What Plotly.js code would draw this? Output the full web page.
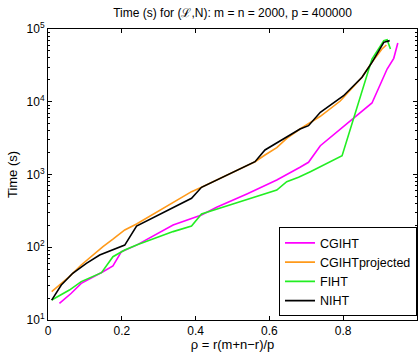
<!DOCTYPE html>
<html>
<head>
<meta charset="utf-8">
<script src="https://cdn.plot.ly/plotly-3.0.1.min.js"></script>
<style>
html,body{margin:0;padding:0;background:#fff;}
#chart{width:418px;height:352px;}
</style>
</head>
<body>
<div id="chart"></div>
<script>
// CGIHT (magenta)
const rhoCGIHT = [0.031, 0.063, 0.090, 0.117, 0.149, 0.176, 0.199, 0.240, 0.339, 0.416, 0.457, 0.539, 0.620, 0.683, 0.706, 0.738, 0.878, 0.901, 0.919, 0.937, 0.948];
const timeCGIHT = [16.9, 23.3, 31.9, 37.4, 46.1, 55.2, 86.9, 107, 202, 277, 354, 540, 839, 1256, 1472, 2489, 9616, 17540, 28180, 39540, 64270];

// CGIHTprojected (orange)
const rhoCGIHTproj = [0.010, 0.058, 0.090, 0.122, 0.149, 0.176, 0.208, 0.240, 0.389, 0.416, 0.466, 0.561, 0.588, 0.620, 0.647, 0.683, 0.738, 0.792, 0.851, 0.878, 0.905, 0.917];
const timeCGIHTproj = [24.5, 39.4, 57.0, 78.2, 102, 129, 173, 209, 581, 667, 887, 1500, 1854, 2340, 3141, 4217, 6310, 10230, 21680, 34830, 53090, 60260];

// FIHT (green)
const rhoFIHT = [0.010, 0.058, 0.090, 0.145, 0.176, 0.208, 0.240, 0.339, 0.389, 0.416, 0.484, 0.620, 0.647, 0.679, 0.711, 0.797, 0.878, 0.910, 0.919, 0.928];
const timeFIHT = [18.8, 25.8, 33.7, 44.8, 74.1, 91.6, 107, 164, 196, 286, 369, 612, 796, 914, 1094, 1815, 38730, 69180, 71290, 53090];

// NIHT (black)
const rhoNIHT = [0.010, 0.036, 0.067, 0.104, 0.140, 0.208, 0.240, 0.389, 0.416, 0.466, 0.561, 0.588, 0.620, 0.683, 0.706, 0.738, 0.801, 0.851, 0.878, 0.910, 0.926];
const timeNIHT = [18.8, 30.3, 43.9, 60.1, 78.2, 107, 196, 471, 667, 887, 1500, 2173, 2735, 4217, 4688, 7161, 12100, 21680, 34830, 65610, 69180];

const xTickVals = [0, 0.2, 0.4, 0.6, 0.8, 1];
const xTickText = ['0', '0.2', '0.4', '0.6', '0.8', '1'];
const yTickVals = [10, 100, 1000, 10000, 100000];
const yTickText = ['10<sup>1</sup>', '10<sup>2</sup>', '10<sup>3</sup>', '10<sup>4</sup>', '10<sup>5</sup>'];

const FONT = 'Liberation Sans, Arial, Helvetica, sans-serif';

function tr(x, y, name, color) {
  return {x: x, y: y, name: name, type: 'scatter', mode: 'lines',
          line: {color: color, width: 1.6}};
}

const data = [
  tr(rhoCGIHT, timeCGIHT, 'CGIHT', '#ff00ff'),
  tr(rhoCGIHTproj, timeCGIHTproj, 'CGIHTprojected', '#ff9a1a'),
  tr(rhoFIHT, timeFIHT, 'FIHT', '#22ee22'),
  tr(rhoNIHT, timeNIHT, 'NIHT', '#000000')
];

const layout = {
  width: 418, height: 352,
  margin: {l: 48, r: 1, t: 29, b: 32},
  paper_bgcolor: '#fff', plot_bgcolor: '#fff',
  font: {family: FONT, size: 12, color: '#000'},
  showlegend: true,
  title: {text: 'Time (s) for (\u2112,N): m = n = 2000, p = 400000',
          font: {family: FONT, size: 12, color: '#000'},
          x: 0.5, xref: 'paper', xanchor: 'center', y: 0.963, yanchor: 'middle'},
  xaxis: {
    range: [0, 1], tickmode: 'array', tickvals: xTickVals, ticktext: xTickText,
    ticks: 'inside', ticklen: 4, tickcolor: '#000', tickwidth: 1,
    showline: true, linecolor: '#000', linewidth: 1, mirror: 'allticks',
    showgrid: false, zeroline: false,
    tickfont: {family: FONT, size: 12, color: '#000'},
    title: {text: '\u03c1 = r(m+n\u2212r)/p', font: {family: FONT, size: 13, color: '#000'}, standoff: 4}
  },
  yaxis: {
    type: 'log', range: [1, 5], tickmode: 'array', tickvals: yTickVals, ticktext: yTickText,
    ticks: 'inside', ticklen: 4, tickcolor: '#000', tickwidth: 1,
    minor: {ticks: 'inside', ticklen: 2, tickcolor: '#000', dtick: 'D1', showgrid: false},
    showline: true, linecolor: '#000', linewidth: 1, mirror: 'allticks',
    showgrid: false, zeroline: false,
    tickfont: {family: FONT, size: 12, color: '#000'},
    title: {text: 'Time (s)', font: {family: FONT, size: 13, color: '#000'}, standoff: 6}
  },
  legend: {
    x: 1, xanchor: 'right', y: 0.013, yanchor: 'bottom',
    bgcolor: '#fff', bordercolor: '#000', borderwidth: 1,
    font: {family: FONT, size: 12.5, color: '#000'},
    tracegroupgap: 0, itemwidth: 30
  }
};

Plotly.newPlot('chart', data, layout, {displayModeBar: false, staticPlot: true});
</script>
</body>
</html>
